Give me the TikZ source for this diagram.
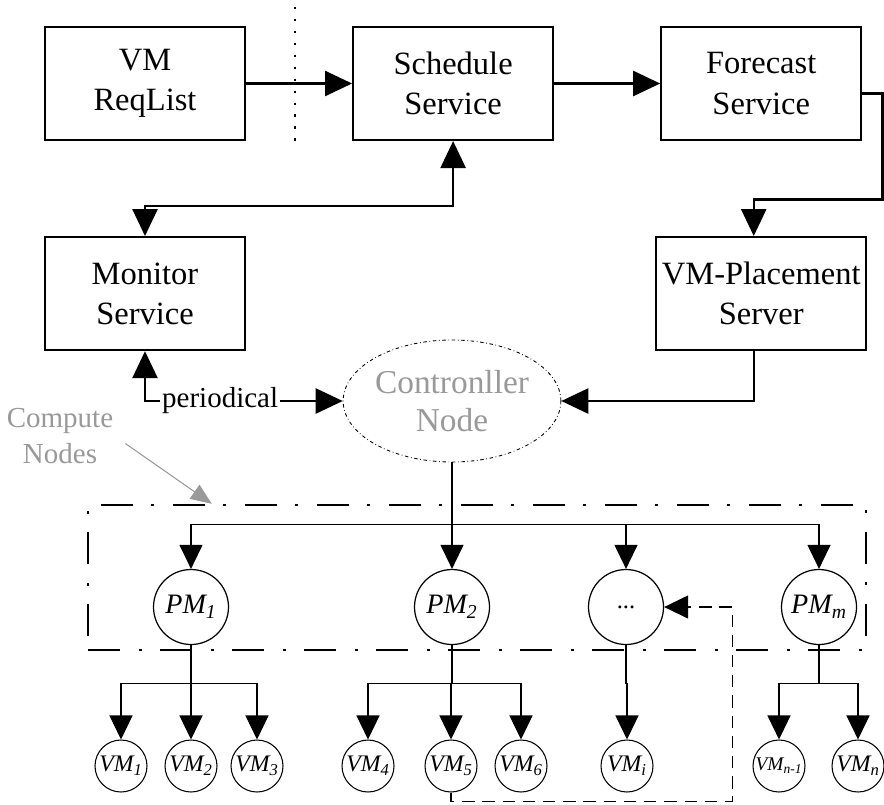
\documentclass[tikz,border=0pt]{standalone}
\usepackage{fontspec}
\setmainfont{Liberation Serif}
\usepackage{tikz}
\usetikzlibrary{shapes,arrows.meta,positioning}

\begin{document}
\begin{tikzpicture}[node distance=2.12cm,
  box_style/.style={rectangle,draw=black,line width=1.2pt,minimum width=4cm,minimum height=2.26cm,align=center,font=\fontsize{18.5}{23}\selectfont},
  ctrl_style/.style={ellipse,draw=black,line width=0.5pt,dash pattern=on 2pt off 1.5pt on 0.4pt off 1.5pt,minimum width=3.52cm,minimum height=2.44cm,inner sep=0pt,align=center,text=black!40,font=\fontsize{19}{22}\selectfont},
  pm_style/.style={circle,draw=black,line width=0.7pt,minimum size=1.5cm,inner sep=0pt,font=\fontsize{16}{19}\selectfont\itshape},
  vm_style/.style={circle,draw=black,line width=0.6pt,minimum size=1.04cm,inner sep=0pt,font=\fontsize{13.5}{15}\selectfont\itshape},
  group_style/.style={draw=black,line width=1.4pt,dash pattern=on 0.64cm off 0.38cm on 0.06cm off 0.36cm},
  arrow_style/.style={draw=black,line width=1.4pt,-{Triangle[length=0.54cm,width=0.5cm]}},
  both_style/.style={draw=black,line width=1.4pt,{Triangle[length=0.54cm,width=0.5cm]}-{Triangle[length=0.54cm,width=0.5cm]}},
  thin_arrow/.style={draw=black,line width=0.7pt,-{Triangle[length=0.48cm,width=0.46cm]}},
  line_style/.style={draw=black,line width=0.7pt}]

  \useasboundingbox (0,0) rectangle (17.68,-16.08);

  % services
  \node (req) [box_style] at (2.9,-1.67) {VM\\ReqList};
  \node (sched) [box_style, right=of req] {Schedule\\Service};
  \node (fore) [box_style, right=of sched] {Forecast\\Service};
  \node (mon) [box_style, below=1.9cm of req] {Monitor\\Service};
  \node (place) [box_style, below=1.9cm of fore] {VM-Placement\\Server};
  \node (ctrl) [ctrl_style] at (9.04,-8.02) {Contronller\\Node};
  %
  \draw [arrow_style] (req) -- (sched);
  \draw [arrow_style] (sched) -- (fore);
  \draw [line width=1.2pt, dash pattern=on 1.4pt off 5.4pt] ([xshift=0.98cm]req.north east) ++(0,0.38) -- ++(0,-2.74);
  \draw [arrow_style] ([yshift=-0.2cm]fore.east) -| ++(0.4,-2.12) -| ([xshift=-0.15cm]place.north);
  \draw [both_style] (sched.south) -- ++(0,-1.3) -| (mon.north);
  \draw [both_style] (mon.south) |- node[pos=0.69,fill=white,inner sep=1pt,font=\fontsize{16.5}{19}\selectfont]{periodical} (ctrl.west);
  \draw [arrow_style] ([xshift=-0.15cm]place.south) |- (ctrl.east);

  % compute nodes
  \node (cbox) [group_style, minimum width=15.56cm, minimum height=2.9cm] at (9.54,-11.55) {};
  \node (cn) [align=center, text=black!40, font=\fontsize{16.5}{20}\selectfont] at (1.2,-8.72) {Compute\\Nodes};
  \draw [draw=black!40, line width=0.6pt, -{Triangle[length=0.42cm,width=0.34cm]}] ([xshift=0.12cm,yshift=-0.15cm]cn.east) -- ([xshift=2.5cm]cbox.north west);

  \node (pm1) [pm_style] at (3.82,-12.14) {PM\textsubscript{1}};
  \node (pm2) [pm_style] at (9.04,-12.14) {PM\textsubscript{2}};
  \node (pmd) [pm_style] at (12.52,-12.14) {\upshape\fontsize{14}{16}\selectfont ...};
  \node (pmm) [pm_style] at (16.38,-12.14) {PM\textsubscript{m}};

  \node (vm1) [vm_style] at (2.42,-15.32) {VM\textsubscript{1}};
  \node (vm2) [vm_style] at (3.82,-15.32) {VM\textsubscript{2}};
  \node (vm3) [vm_style] at (5.14,-15.32) {VM\textsubscript{3}};
  \node (vm4) [vm_style] at (7.36,-15.32) {VM\textsubscript{4}};
  \node (vm5) [vm_style] at (9.02,-15.32) {VM\textsubscript{5}};
  \node (vm6) [vm_style] at (10.42,-15.32) {VM\textsubscript{6}};
  \node (vmi) [vm_style] at (12.54,-15.32) {VM\textsubscript{i}};
  \node (vmn1) [vm_style, font=\fontsize{11}{13}\selectfont\itshape] at (15.58,-15.32) {VM\textsubscript{n-1}};
  \node (vmn) [vm_style] at (17.16,-15.32) {VM\textsubscript{n}};
  %
  \draw [line_style] (ctrl.south) -- ++(0,-1.24) coordinate (bus);
  \foreach \p in {pm1,pm2,pmd,pmm}
    \draw [thin_arrow] (bus) -| (\p.north);
  \foreach \p/\v in {pm1/vm1,pm1/vm2,pm1/vm3,pm2/vm4,pm2/vm5,pm2/vm6,pmd/vmi,pmm/vmn1,pmm/vmn}
    \draw [thin_arrow] (\p.south) -- ++(0,-0.76) -| (\v.north);
  \draw [thin_arrow, dash pattern=on 7pt off 4.5pt] (vm5.south) -- ++(0,-0.18) -| ([xshift=1.36cm]pmd.east) -- (pmd.east);
\end{tikzpicture}
\end{document}
